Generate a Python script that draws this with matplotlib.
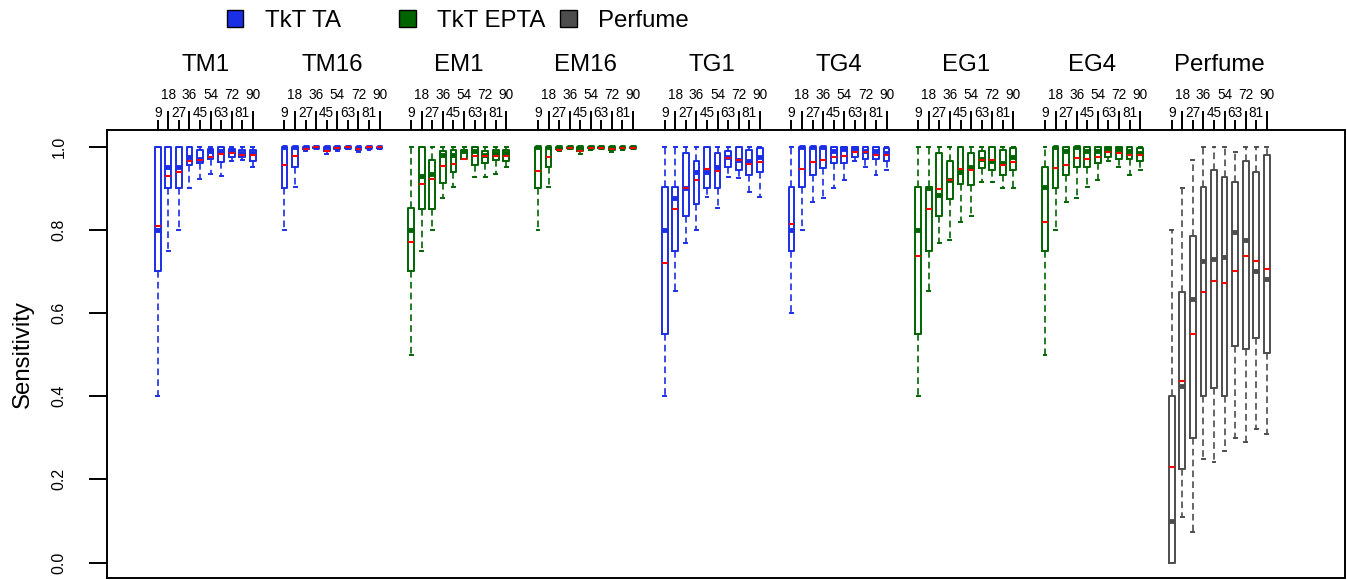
import numpy as np
import matplotlib
matplotlib.use("Agg")
import matplotlib.pyplot as plt
from matplotlib.patches import Rectangle
from matplotlib.transforms import blended_transform_factory

plt.rcParams['font.family'] = ['Liberation Sans', 'DejaVu Sans']

groups = ['TM1', 'TM16', 'EM1', 'EM16', 'TG1', 'TG4', 'EG1', 'EG4', 'Perfume']
sizes = [9, 18, 27, 36, 45, 54, 63, 72, 81, 90]

blue = '#1a2ee6'
green = '#006400'
grey = '#4d4d4d'
group_colors = [blue, blue, green, green, blue, blue, green, green, grey]

legend_names = ['TkT TA', 'TkT EPTA', 'Perfume']
legend_colors = [blue, green, grey]

# one row per group, one column per training size
whislo = [
    [0.40, 0.75, 0.80, 0.90, 0.923, 0.935, 0.93, 0.965, 0.967, 0.95],
    [0.80, 0.903, 0.99, 0.995, 0.983, 0.99, 0.995, 0.988, 0.993, 0.995],
    [0.50, 0.75, 0.80, 0.876, 0.903, 0.97, 0.928, 0.927, 0.935, 0.951],
    [0.80, 0.903, 0.99, 0.995, 0.983, 0.993, 0.995, 0.988, 0.993, 0.995],
    [0.40, 0.654, 0.768, 0.80, 0.88, 0.852, 0.928, 0.925, 0.89, 0.88],
    [0.60, 0.80, 0.868, 0.876, 0.90, 0.92, 0.965, 0.951, 0.933, 0.945],
    [0.40, 0.654, 0.768, 0.776, 0.82, 0.834, 0.915, 0.915, 0.90, 0.90],
    [0.50, 0.80, 0.868, 0.876, 0.903, 0.92, 0.965, 0.951, 0.933, 0.945],
    [0.0, 0.11, 0.074, 0.25, 0.242, 0.268, 0.30, 0.29, 0.322, 0.31],
]
q1 = [
    [0.70, 0.90, 0.90, 0.955, 0.96, 0.97, 0.963, 0.975, 0.975, 0.965],
    [0.90, 0.95, 0.995, 0.997, 0.99, 0.995, 0.997, 0.993, 0.996, 0.997],
    [0.70, 0.85, 0.85, 0.912, 0.939, 0.97, 0.957, 0.96, 0.967, 0.965],
    [0.90, 0.95, 0.995, 0.997, 0.99, 0.996, 0.997, 0.993, 0.996, 0.997],
    [0.549, 0.749, 0.834, 0.862, 0.90, 0.90, 0.951, 0.945, 0.933, 0.94],
    [0.749, 0.902, 0.933, 0.948, 0.96, 0.96, 0.975, 0.97, 0.97, 0.965],
    [0.549, 0.749, 0.834, 0.875, 0.91, 0.907, 0.948, 0.945, 0.933, 0.945],
    [0.749, 0.90, 0.933, 0.951, 0.951, 0.96, 0.975, 0.97, 0.97, 0.965],
    [0.0, 0.226, 0.30, 0.40, 0.42, 0.40, 0.521, 0.513, 0.539, 0.505],
]
med = [
    [0.80, 0.95, 0.95, 0.975, 0.97, 0.99, 0.99, 0.99, 0.985, 0.985],
    [1.0, 1.0, 1.0, 1.0, 1.0, 1.0, 1.0, 1.0, 1.0, 1.0],
    [0.80, 0.93, 0.935, 0.98, 0.98, 0.99, 0.99, 0.98, 0.985, 0.985],
    [1.0, 1.0, 1.0, 1.0, 1.0, 1.0, 1.0, 1.0, 1.0, 1.0],
    [0.80, 0.876, 0.90, 0.94, 0.94, 0.95, 0.975, 0.967, 0.965, 0.975],
    [0.80, 1.0, 1.0, 1.0, 0.99, 0.995, 0.997, 0.99, 0.99, 0.985],
    [0.80, 0.90, 0.884, 0.92, 0.94, 0.95, 0.97, 0.965, 0.96, 0.975],
    [0.902, 1.0, 0.99, 1.0, 0.99, 0.99, 0.997, 0.995, 0.99, 0.985],
    [0.10, 0.425, 0.634, 0.725, 0.730, 0.734, 0.794, 0.776, 0.701, 0.681],
]
q3 = [
    [1.0, 1.0, 1.0, 1.0, 0.993, 0.995, 1.0, 0.995, 0.993, 0.993],
    [1.0, 1.0, 1.0, 1.0, 1.0, 1.0, 1.0, 1.0, 1.0, 1.0],
    [0.852, 1.0, 0.967, 0.989, 0.991, 0.993, 1.0, 0.99, 0.991, 0.991],
    [1.0, 1.0, 1.0, 1.0, 1.0, 1.0, 1.0, 1.0, 1.0, 1.0],
    [0.902, 0.902, 0.985, 0.965, 1.0, 0.985, 0.99, 1.0, 0.991, 0.996],
    [0.902, 1.0, 1.0, 1.0, 1.0, 1.0, 1.0, 1.0, 1.0, 0.996],
    [0.902, 0.904, 0.985, 0.965, 1.0, 0.985, 0.99, 1.0, 0.991, 0.996],
    [0.951, 1.0, 1.0, 1.0, 1.0, 1.0, 1.0, 1.0, 1.0, 0.996],
    [0.40, 0.651, 0.784, 0.902, 0.943, 0.927, 0.915, 0.965, 0.939, 0.981],
]
whishi = [
    [1.0] * 10,
    [1.0] * 10,
    [1.0] * 10,
    [1.0] * 10,
    [1.0] * 10,
    [1.0] * 10,
    [1.0] * 10,
    [1.0] * 10,
    [0.80, 0.90, 0.967, 1.0, 1.0, 1.0, 0.986, 1.0, 1.0, 1.0],
]
means = [
    [0.81, 0.93, 0.94, 0.965, 0.967, 0.975, 0.983, 0.985, 0.98, 0.98],
    [0.957, 0.978, 0.994, 0.998, 0.99, 0.997, 0.998, 0.995, 0.998, 0.998],
    [0.77, 0.911, 0.922, 0.953, 0.959, 0.97, 0.978, 0.978, 0.977, 0.978],
    [0.942, 0.975, 0.991, 0.997, 0.99, 0.996, 0.997, 0.994, 0.997, 0.997],
    [0.721, 0.851, 0.90, 0.92, 0.946, 0.942, 0.972, 0.967, 0.959, 0.963],
    [0.814, 0.946, 0.962, 0.968, 0.974, 0.977, 0.988, 0.986, 0.98, 0.98],
    [0.736, 0.851, 0.899, 0.919, 0.947, 0.945, 0.968, 0.967, 0.957, 0.963],
    [0.82, 0.948, 0.955, 0.972, 0.97, 0.974, 0.988, 0.985, 0.98, 0.979],
    [0.23, 0.437, 0.549, 0.65, 0.677, 0.673, 0.702, 0.736, 0.724, 0.706],
]

W, H = 1347, 580
fig = plt.figure(figsize=(W / 100, H / 100), dpi=100)
ax = fig.add_axes([106.7 / W, 2 / H, (1345 - 106.7) / W, 448 / H])

n = len(sizes)
step = n + 2
for g, name in enumerate(groups):
    pos = g * step + np.arange(n)
    stats = []
    for i in range(n):
        stats.append(dict(whislo=whislo[g][i], q1=q1[g][i], med=med[g][i],
                          q3=q3[g][i], whishi=whishi[g][i], mean=means[g][i],
                          fliers=[]))
    col = group_colors[g]
    ax.bxp(stats, positions=pos, widths=0.55, capwidths=0.28,
           showmeans=True, meanline=True, showfliers=False, manage_ticks=False,
           boxprops=dict(color=col, lw=1.4),
           whiskerprops=dict(color=col, lw=1.2, linestyle=(0, (4, 2.5))),
           capprops=dict(color=col, lw=1.4),
           medianprops=dict(color=col, lw=3.5, solid_capstyle='butt'),
           meanprops=dict(color='red', lw=1.5, linestyle='-'))

ax.set_xlim(-4.83, (len(groups) - 1) * step + n - 1 + 7.4)
ax.set_ylim(-0.037, 1.04)

# top axis: sizes split over two label rows
all_pos = np.array([g * step + i for g in range(len(groups)) for i in range(n)])
all_lab = [str(s) for g in range(len(groups)) for s in sizes]
upper = [k for k in range(len(all_pos)) if k % n % 2 == 1]
lower = [k for k in range(len(all_pos)) if k % n % 2 == 0]
ax.xaxis.tick_top()
ax.set_xticks(all_pos[upper], labels=[all_lab[k] for k in upper])
ax.set_xticks(all_pos[lower], labels=[all_lab[k] for k in lower], minor=True)
ax.tick_params(axis='x', which='major', length=13.5, width=1.4, pad=7.0,
               labelsize=9.8, top=True, bottom=False)
ax.tick_params(axis='x', which='minor', length=7.2, width=1.4, pad=0.0,
               labelsize=9.8, top=True, bottom=False)

yt = np.arange(0, 1.01, 0.2)
ax.set_yticks(yt, labels=['%.1f' % v for v in yt])
ax.tick_params(axis='y', length=13.2, width=1.4, pad=15.5, labelsize=11.5,
               labelrotation=90)
for lab in ax.get_yticklabels():
    lab.set_va('center')
ax.set_ylabel('Sensitivity', fontsize=17.3)
ax.yaxis.set_label_coords(-0.0587, 0.5)

for sp in ax.spines.values():
    sp.set_linewidth(1.4)

# group names above the tick labels
trans = blended_transform_factory(ax.transData, fig.transFigure)
for g, name in enumerate(groups):
    ax.text(g * step + (n - 1) / 2, 1 - 65 / H, name, transform=trans,
            ha='center', va='center', fontsize=17.3)

# legend row
sq_x = [226.7, 399.0, 560.0]
txt_x = [265.0, 437.3, 598.0]
for x0, tx, lab, col in zip(sq_x, txt_x, legend_names, legend_colors):
    fig.add_artist(Rectangle((x0 / W, 1 - 27 / H), 16.6 / W, 16.6 / H,
                             transform=fig.transFigure, facecolor=col,
                             edgecolor='black', lw=1.0))
    fig.text(tx / W, 1 - 27 / H, lab, ha='left', va='baseline', fontsize=17.3)

fig.savefig('out.png', dpi=100)
